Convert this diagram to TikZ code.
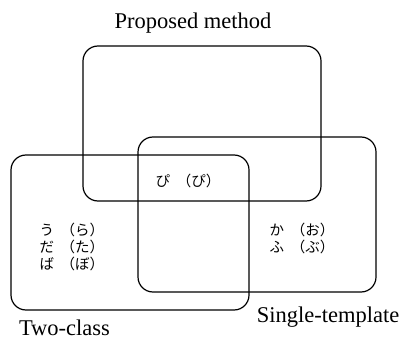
\documentclass[tikz,border=0pt]{standalone}
\usepackage{fontspec}
\setmainfont{Liberation Serif}
\newfontfamily\jafont{Noto Sans CJK JP}
\usetikzlibrary{positioning}

\begin{document}
\begin{tikzpicture}[
  x=1pt, y=1pt,
  setbox/.style={draw, line width=1.2pt, rounded corners=15pt,
                 minimum width=238pt, minimum height=155pt, inner sep=0pt},
  setname/.style={font=\fontsize{22.5}{26}\selectfont, inner sep=0pt, anchor=base},
  member/.style={font=\jafont\fontsize{14.5}{17}\selectfont, align=left, inner sep=0pt}
]
\useasboundingbox (0,0) rectangle (403,340);
% the three sets
\node[setbox] (proposed) at (202,216.5) {};
\node[setbox] (single) at (257,125.5) {};
\node[setbox] (twoclass) at (130,107.5) {};
% set names
\node[setname] (propname) at (193,311) {Proposed method};
\node[setname] (singlename) at (328,18) {Single-template};
\node[setname] (twoname) at (64.5,4.5) {Two-class};
% members
\node[member] (common) at (188,159) {ぴ\hspace{0.45em}（ぴ）};
\node[member] (twoonly) at (72,93) {う\hspace{0.45em}（ら）\\だ\hspace{0.45em}（た）\\ば\hspace{0.45em}（ぼ）};
\node[member] (singleonly) at (302,102) {か\hspace{0.45em}（お）\\ふ\hspace{0.45em}（ぶ）};
\end{tikzpicture}
\end{document}
